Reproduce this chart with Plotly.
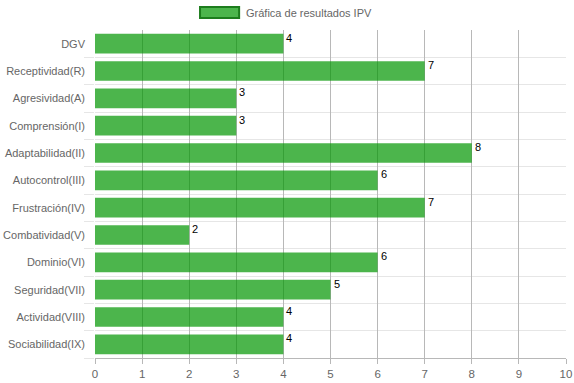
import plotly.graph_objects as go

categories = ["DGV", "Receptividad(R)", "Agresividad(A)", "Comprensión(I)",
              "Adaptabilidad(II)", "Autocontrol(III)", "Frustración(IV)",
              "Combatividad(V)", "Dominio(VI)", "Seguridad(VII)",
              "Actividad(VIII)", "Sociabilidad(IX)"]
values = [4, 7, 3, 3, 8, 6, 7, 2, 6, 5, 4, 4]
series_name = "Gráfica de resultados IPV"
x_ticks = list(range(0, 11))

idx = list(range(len(categories)))

fig = go.Figure()
fig.add_trace(go.Bar(
    x=values, y=idx, orientation="h",
    marker=dict(color="rgba(0,150,0,0.7)", line=dict(width=0)),
    name=series_name, showlegend=False, hoverinfo="x+y",
))

for i, v in zip(idx, values):
    fig.add_annotation(x=v, y=i, text=str(v), showarrow=False,
                       xanchor="left", yanchor="middle", xshift=1, yshift=6,
                       font=dict(family="Liberation Sans, Arial", size=11, color="#000"))

# legend drawn as box + text
fig.add_shape(type="rect", xref="paper", yref="paper",
              x0=0.223, x1=0.306, y0=1.0366, y1=1.070,
              fillcolor="rgba(0,150,0,0.7)", line=dict(color="#1d7d1d", width=2))
fig.add_annotation(xref="paper", yref="paper", x=0.316, y=1.053, text=series_name,
                   showarrow=False, xanchor="left", yanchor="middle",
                   font=dict(family="Liberation Sans, Arial", size=11, color="#666"))

fig.update_layout(
    width=574, height=383,
    margin=dict(l=95, r=8, t=30, b=25),
    paper_bgcolor="white", plot_bgcolor="white",
    bargap=0.28,
    font=dict(family="Liberation Sans, Arial", size=11, color="#666"),
    showlegend=False,
)
fig.update_xaxes(
    range=[0, 10], tickvals=x_ticks, ticktext=[str(t) for t in x_ticks],
    showgrid=True, gridcolor="#b8b8b8", gridwidth=1,
    zeroline=False, showline=True, linecolor="#b8b8b8",
    ticks="outside", ticklen=5, tickcolor="#b8b8b8",
    tickfont=dict(size=11.5, color="#666"), automargin=False,
)
fig.update_yaxes(
    range=[len(categories) - 0.5, -0.5],
    tickvals=idx, ticktext=categories,
    showgrid=False, zeroline=False, showline=False,
    ticks="", ticklabelstandoff=9, automargin=False,
    tickfont=dict(size=11, color="#666"),
    minor=dict(tickvals=[i + 0.5 for i in idx], showgrid=True,
               gridcolor="#e6e6e6", gridwidth=1,
               ticks="outside", ticklen=10, tickcolor="#e6e6e6"),
)

fig.write_html("out.html", config={"displayModeBar": False},
               post_script="document.body.style.margin='0';document.body.style.overflow='hidden';")
